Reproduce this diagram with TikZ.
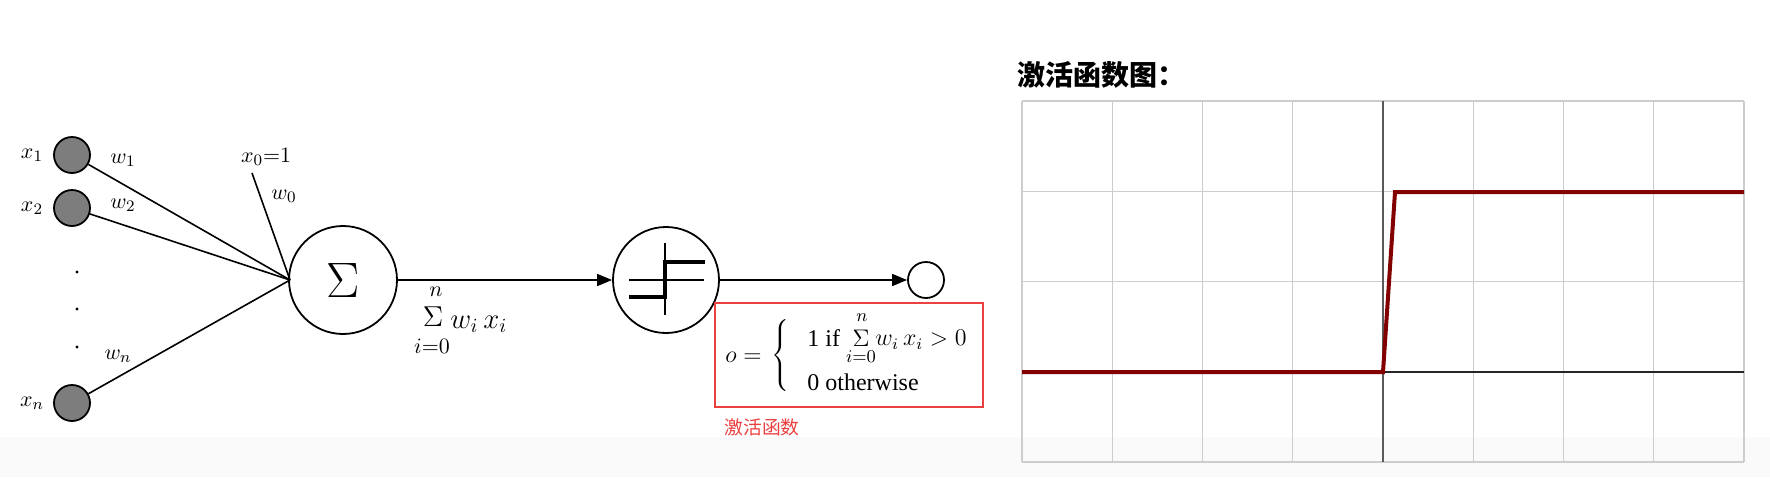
\documentclass[tikz,border=0pt]{standalone}
\usepackage{fontspec}
\setmainfont{Liberation Serif}
\newfontfamily\cjk{Noto Sans CJK SC}
\usetikzlibrary{arrows.meta}
\definecolor{boxred}{RGB}{235,64,64}
\definecolor{curvered}{RGB}{130,0,0}
\definecolor{gridgray}{RGB}{205,205,205}
\definecolor{axisgray}{RGB}{90,90,90}
\definecolor{ingray}{RGB}{125,125,125}
\begin{document}
\begin{tikzpicture}[x=0.5pt,y=-0.5pt,
  inp/.style={circle,draw,fill=ingray,minimum size=18pt,inner sep=0pt,line width=0.9pt},
  unit/.style={circle,draw,line width=0.9pt,inner sep=0pt},
  wire/.style={line width=0.8pt},
  arr/.style={wire,-{Triangle[length=7.5pt,width=6pt]}},
  lbl/.style={inner sep=0pt,font=\fontsize{11}{13}\selectfont},
  flbl/.style={inner sep=0pt,font=\fontsize{12}{14}\selectfont},
  slbl/.style={inner sep=0pt,font=\fontsize{9}{10}\selectfont},
  gridline/.style={gridgray,line width=0.6pt}]
\useasboundingbox (0,0) rectangle (1770,477);
\fill[white] (0,0) rectangle (1770,477);
\fill[black!2] (0,437) rectangle (1770,477);

% inputs
\node[inp] (in1) at (72,155) {};
\node[inp] (in2) at (72,208) {};
\node[inp] (inn) at (72,403) {};
\fill (77,272) circle[radius=0.8pt];
\fill (77,309) circle[radius=0.8pt];
\fill (77,347) circle[radius=0.8pt];
\node[lbl] (lx1) at (32,155) {$x_1$};
\node[lbl] (lx2) at (32,208) {$x_2$};
\node[lbl] (lxn) at (32,403) {$x_n$};
\node[lbl] (lw1) at (123,160) {$w_1$};
\node[lbl] (lw2) at (123,205) {$w_2$};
\node[lbl] (lwn) at (118,356) {$w_n$};
\node[lbl] (lx0) at (266,157) {$x_0{=}1$};
\node[lbl] (lw0) at (284,196) {$w_0$};

% units
\coordinate (conv) at (290,280);
\coordinate (bias) at (252,173);
\node[unit,minimum size=54pt] (sum) at (343,280) {\fontsize{34}{34}\selectfont$\Sigma$};
\node[unit,minimum size=53pt] (act) at (666,280) {};
\node[unit,minimum size=18pt] (out) at (926,280) {};

\draw[wire] (in1) -- (conv);
\draw[wire] (in2) -- (conv);
\draw[wire] (inn) -- (conv);
\draw[wire] (bias) -- (conv);
\draw[arr] (sum) -- (act);
\draw[arr] (act) -- (out);

% step glyph
\draw[line width=0.6pt] (629,280) -- (704,280);
\draw[line width=0.6pt] (665,243) -- (665,315);
\draw[line width=2pt,line join=miter] (629,297) -- (665,297) -- (665,262) -- (705,262);

% sum label
\node[lbl] (sumn) at (436,292) {$n$};
\node[inner sep=0pt,font=\fontsize{14}{16}\selectfont] (sumsig) at (433,317) {$\Sigma$};
\node[lbl] (sumi) at (432,346) {$i{=}0$};
\node[anchor=west,inner sep=0pt,font=\fontsize{14}{16}\selectfont] (sumwx) at (450,324) {$w_i\, x_i$};

% formula box
\node[draw=boxred,line width=1pt,minimum width=134pt,minimum height=52pt,inner sep=0pt] (box) at (849,355) {};
\node[flbl,anchor=west] (fo) at (725,357) {$o =$};
\node[inner sep=0pt,font=\fontsize{12}{14}\selectfont] (fbrace) at (782,355) {$\left\{\rule{0pt}{21pt}\right.$};
\node[flbl,anchor=west] (f1) at (807,338) {1 if};
\node[inner sep=0pt,font=\fontsize{12}{14}\selectfont] (fsig) at (861,338) {$\Sigma$};
\node[slbl] (fn) at (862,318) {$n$};
\node[slbl] (fi) at (861,357) {$i{=}0$};
\node[flbl,anchor=west] (fwx) at (875,340) {$w_i\, x_i > 0$};
\node[flbl,anchor=west] (frow2) at (807,382) {0 otherwise};
\node[text=boxred,inner sep=0pt,font=\cjk\fontsize{9.4}{11}\selectfont] (actlbl) at (762,427) {激活函数};

% chart
\node[anchor=west,inner sep=0pt,font=\cjk\bfseries\fontsize{14}{16}\selectfont] (title) at (1017,75) {激活函数图：};
\foreach \i in {0,...,8} \draw[gridline] (1022+90.25*\i,101) -- ++(0,361);
\foreach \j in {0,...,4} \draw[gridline] (1022,101+90.25*\j) -- ++(722,0);
\draw[axisgray,line width=0.8pt] (1383,101) -- (1383,462);
\draw[black!85,line width=0.8pt] (1022,372) -- (1744,372);
\draw[curvered,line width=2pt,line join=miter] (1022,372) -- (1383,372) -- (1395,192) -- (1744,192);
\end{tikzpicture}
\end{document}
